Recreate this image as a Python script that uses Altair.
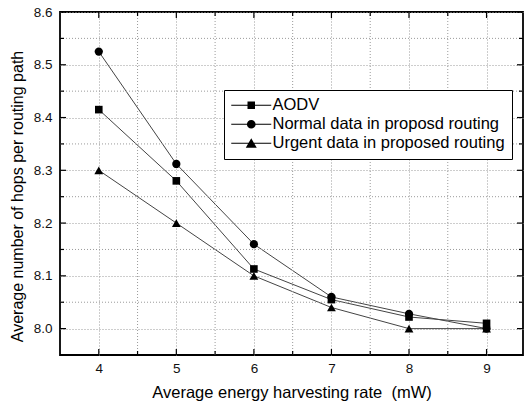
import altair as alt
import pandas as pd

# ---- data ----
x_vals = [4, 5, 6, 7, 8, 9]
aodv = [8.415, 8.280, 8.113, 8.055, 8.022, 8.010]
normal = [8.525, 8.312, 8.160, 8.060, 8.028, 8.000]
urgent = [8.300, 8.200, 8.100, 8.040, 8.000, 8.000]
series = ["AODV", "Normal data in proposd routing", "Urgent data in proposed routing"]

x_major = [4, 5, 6, 7, 8, 9]
x_minor = [4.5, 5.5, 6.5, 7.5, 8.5]
y_major = [8.0, 8.1, 8.2, 8.3, 8.4, 8.5, 8.6]
y_minor = [8.05, 8.15, 8.25, 8.35, 8.45, 8.55]

rows = []
for name, vals in zip(series, [aodv, normal, urgent]):
    for xv, yv in zip(x_vals, vals):
        rows.append({"rate": xv, "hops": yv, "series": name})
df = pd.DataFrame(rows)

W, H = 463, 343
FONT = "Liberation Sans"
GRID = "#9a9a9a"

xscale = alt.Scale(domain=[3.5, 9.47], nice=False, zero=False)
yscale = alt.Scale(domain=[7.95, 8.6], nice=False, zero=False)

base = alt.Chart(df)

lines = base.mark_line(color="#444444", strokeWidth=1).encode(
    x=alt.X(
        "rate:Q",
        scale=xscale,
        axis=alt.Axis(
            values=x_major,
            format="d",
            labelOverlap=False,
            title="Average energy harvesting rate \u00a0(mW)",
            titleY=42,
            titleBaseline="alphabetic",
        ),
    ),
    y=alt.Y(
        "hops:Q",
        scale=yscale,
        axis=alt.Axis(
            values=y_major,
            format=".1f",
            labelOverlap=False,
            title="Average number of hops per routing path",
            titleX=-43,
            titleY=184,
            titleAngle=-90,
            titleAlign="center",
            titleBaseline="middle",
            titleFontSize=16,
        ),
    ),
    detail="series:N",
)

points = base.mark_point(filled=True, color="black", opacity=1).encode(
    x=alt.X("rate:Q", scale=xscale),
    y=alt.Y("hops:Q", scale=yscale),
    shape=alt.Shape(
        "series:N",
        scale=alt.Scale(domain=series, range=["square", "circle", "triangle-up"]),
        legend=None,
    ),
    size=alt.Size(
        "series:N",
        scale=alt.Scale(domain=series, range=[58, 78, 120]),
        legend=None,
    ),
)

# legend symbols: a thin bar (the line) plus the marker, filled
legend_shapes = [
    "M-4,-0.1H4V0.1H-4ZM-0.75,-0.75H0.75V0.75H-0.75Z",
    "M-4,-0.1H4V0.1H-4ZM-0.87,0A0.87,0.87,0,1,1,0.87,0A0.87,0.87,0,1,1,-0.87,0Z",
    "M-4,-0.1H4V0.1H-4ZM0,-1.0L1.1,0.9H-1.1Z",
]

legend_layer = (
    base.transform_filter("false")
    .mark_point(filled=True, color="black", opacity=1)
    .encode(
        x=alt.X("rate:Q", scale=xscale),
        y=alt.Y("hops:Q", scale=yscale),
        shape=alt.Shape(
            "series:N",
            scale=alt.Scale(domain=series, range=legend_shapes),
            legend=alt.Legend(
                title=None,
                orient="none",
                legendX=164,
                legendY=78,
                strokeColor="black",
                fillColor="white",
                padding=7,
                labelFont=FONT,
                labelFontSize=16.5,
                labelColor="black",
                labelLimit=400,
                symbolSize=100,
                symbolOffset=12,
                labelOffset=13,
                rowPadding=2,
                symbolFillColor="black",
                symbolOpacity=1,
            ),
        ),
    )
)

dfxmaj = pd.DataFrame({"v": x_major})
dfxmin = pd.DataFrame({"v": x_minor})
dfymaj = pd.DataFrame({"v": y_major})
dfymin = pd.DataFrame({"v": y_minor})

# minor dotted grid lines
xgrid_minor = alt.Chart(dfxmin).mark_rule(color=GRID, strokeWidth=1, strokeDash=[1, 2]).encode(
    x=alt.X("v:Q", scale=xscale), y=alt.value(0), y2=alt.value(H)
)
ygrid_minor = alt.Chart(dfymin).mark_rule(color=GRID, strokeWidth=1, strokeDash=[1, 2]).encode(
    y=alt.Y("v:Q", scale=yscale), x=alt.value(0), x2=alt.value(W)
)


# inward ticks on all four sides
def xticks(d, length):
    b = alt.Chart(d).mark_rule(color="black", strokeWidth=1.2)
    bottom = b.encode(
        x=alt.X("v:Q", scale=xscale), y=alt.value(H), y2=alt.value(H - length)
    )
    top = b.encode(
        x=alt.X("v:Q", scale=xscale), y=alt.value(0), y2=alt.value(length)
    )
    return [bottom, top]


def yticks(d, length):
    b = alt.Chart(d).mark_rule(color="black", strokeWidth=1.2)
    left = b.encode(
        y=alt.Y("v:Q", scale=yscale), x=alt.value(0), x2=alt.value(length)
    )
    right = b.encode(
        y=alt.Y("v:Q", scale=yscale), x=alt.value(W), x2=alt.value(W - length)
    )
    return [left, right]


tick_layers = xticks(dfxmaj, 6) + xticks(dfxmin, 4) + yticks(dfymaj, 6) + yticks(dfymin, 4)

chart = (
    alt.layer(lines, xgrid_minor, ygrid_minor, *tick_layers, points, legend_layer)
    .resolve_scale(shape="independent", size="independent")
    .properties(
        width=W,
        height=H,
        autosize=alt.AutoSizeParams(type="none"),
        padding={"left": 60, "top": 12, "right": 1, "bottom": 53},
        background="white",
    )
    .configure_view(stroke="black", strokeWidth=1.8)
    .configure_axis(
        domain=False,
        ticks=False,
        tickSize=0,
        grid=True,
        gridColor=GRID,
        gridDash=[1, 2],
        gridWidth=1,
        labelFont=FONT,
        labelFontSize=13.5,
        labelColor="#111111",
        titleFont=FONT,
        titleFontSize=16.5,
        titleFontWeight="normal",
        titleColor="black",
    )
    .configure_axisX(labelPadding=6)
    .configure_axisY(labelPadding=8)
)

chart.save("out.html", embed_options={"renderer": "svg", "actions": False})
